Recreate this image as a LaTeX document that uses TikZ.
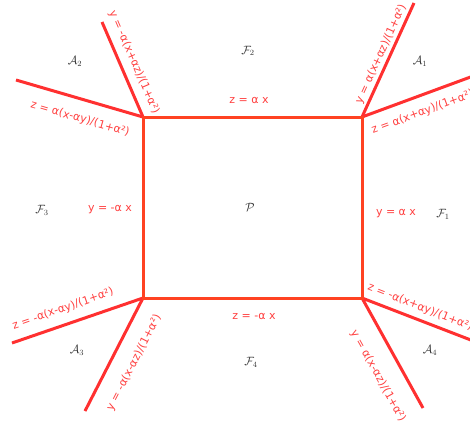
\documentclass[tikz,border=0pt]{standalone}
\usepackage{fontspec}
\setmainfont{DejaVu Sans}
\definecolor{rectcol}{RGB}{255,66,34}
\definecolor{raycol}{RGB}{255,48,48}
\definecolor{labcol}{RGB}{255,64,64}
\begin{document}
\begin{tikzpicture}[x=1pt,y=-1pt,
  rectline/.style={line width=3pt, draw=rectcol, line join=miter},
  rayline/.style={line width=3pt, draw=raycol},
  lab/.style={text=labcol, font=\fontsize{11}{13}\selectfont, inner sep=0pt},
  reg/.style={text=black!80, font=\fontsize{12}{14}\selectfont, inner sep=0pt}]
\useasboundingbox (0,0) rectangle (470,428);
% corners
\coordinate (TL) at (143,117);
\coordinate (TR) at (362,117);
\coordinate (BR) at (362,298);
\coordinate (BL) at (143,298);
% ray ends
\coordinate (tlu) at (102,22);
\coordinate (tll) at (16,80);
\coordinate (tru) at (414,3);
\coordinate (trr) at (476,75);
\coordinate (bll) at (12,343);
\coordinate (bld) at (85,411);
\coordinate (brr) at (476,342);
\coordinate (brd) at (423,408);
% rays
\draw[rayline] (TL) -- (tlu);
\draw[rayline] (TL) -- (tll);
\draw[rayline] (TR) -- (tru);
\draw[rayline] (TR) -- (trr);
\draw[rayline] (BL) -- (bll);
\draw[rayline] (BL) -- (bld);
\draw[rayline] (BR) -- (brr);
\draw[rayline] (BR) -- (brd);
% rectangle
\draw[rectline] (TL) -- (TR) -- (BR) -- (BL) -- cycle;
% straight labels
\node[lab] (lt) at (249,100) {z = α x};
\node[lab] (lb) at (254,316) {z = -α x};
\node[lab] (ll) at (110,210) {y = -α x};
\node[lab] (lr) at (396,214) {y = α x};
% rotated labels
\node[lab, rotate=-66.7] (l1) at (134,62) {y = -α(x+αz)/(1+α²)};
\node[lab, rotate=-16.2] (l2) at (80,119) {z = α(x-αy)/(1+α²)};
\node[lab, rotate=65.5] (l3) at (381,54) {y = α(x+αz)/(1+α²)};
\node[lab, rotate=20.3, anchor=west] (l4) at (372,131) {z = α(x+αy)/(1+α²)};
\node[lab, rotate=19] (l5) at (63,309) {z = -α(x-αy)/(1+α²)};
\node[lab, rotate=62.8] (l6) at (134,363) {y = -α(x-αz)/(1+α²)};
\node[lab, rotate=-21.3, anchor=west] (l7) at (368,287) {z = -α(x+αy)/(1+α²)};
\node[lab, rotate=-61] (l8) at (378,376) {y = α(x-αz)/(1+α²)};
% regions
\node[reg] (P) at (250,207) {$\mathcal{P}$};
\node[reg] (F1) at (443,214) {$\mathcal{F}_1$};
\node[reg] (F2) at (248,51) {$\mathcal{F}_2$};
\node[reg] (F3) at (42,210) {$\mathcal{F}_3$};
\node[reg] (F4) at (251,362) {$\mathcal{F}_4$};
\node[reg] (A1) at (420,61) {$\mathcal{A}_1$};
\node[reg] (A2) at (75,61) {$\mathcal{A}_2$};
\node[reg] (A3) at (77,350) {$\mathcal{A}_3$};
\node[reg] (A4) at (430,350) {$\mathcal{A}_4$};
\end{tikzpicture}
\end{document}
